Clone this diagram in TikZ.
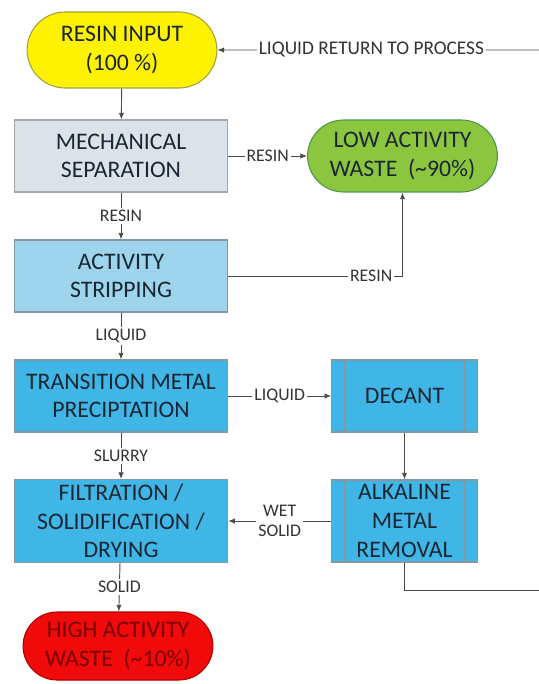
\documentclass[tikz,border=0pt]{standalone}
\usepackage{fontspec}
\setmainfont{Carlito}
\usetikzlibrary{shapes.misc,arrows.meta,positioning}
\definecolor{edgegray}{HTML}{4A4A4A}
\definecolor{labeltext}{HTML}{333333}
\definecolor{boxtext}{HTML}{1A2633}
\tikzset{box node/.style={rectangle, draw=#1, line width=0.8pt,
    minimum width=160pt, minimum height=54pt, align=center,
    font=\fontsize{17.8}{21.5}\selectfont, text=boxtext}}
\tikzset{end node/.style={rounded rectangle, draw=#1, line width=0.8pt,
    minimum width=149pt, minimum height=54pt, align=center,
    font=\fontsize{17.8}{21.5}\selectfont}}
\tikzset{flow edge/.style={draw=edgegray, line width=0.7pt, -{Latex[length=5pt,width=4pt]}}}
\tikzset{plain edge/.style={draw=edgegray, line width=0.7pt}}
\tikzset{flow label/.style={fill=white, inner sep=1.5pt, align=center,
    font=\fontsize{13.3}{15.5}\selectfont, text=labeltext}}

\begin{document}
\begin{tikzpicture}
      [x=0.75pt, y=-0.75pt]
      \useasboundingbox (0,0) rectangle (538,684);

      \node [end node=yellow!60!black, fill=yellow, minimum height=57pt, text=boxtext]
                                              (resin)  at (122, 50) {RESIN INPUT\\(100 \%)};
      \node [box node=gray!70, fill={rgb,255:red,220;green,227;blue,232}]
                                              (mech)   at (121,156) {MECHANICAL\\SEPARATION};
      \node [end node=green!40!black!70, fill={rgb,255:red,140;green,198;blue,63}, text=boxtext]
                                              (law)    at (402.5,156) {LOW ACTIVITY\\WASTE \ (\textasciitilde90\%)};
      \node [box node=cyan!30!black!60, fill={rgb,255:red,158;green,212;blue,236}]
                                              (strip)  at (121,276) {ACTIVITY\\STRIPPING};
      \node [box node=cyan!30!black!60, fill={rgb,255:red,64;green,182;blue,230}]
                                              (tmp)    at (121,396) {TRANSITION METAL\\PRECIPTATION};
      \node [box node=cyan!30!black!60, fill={rgb,255:red,64;green,182;blue,230}, minimum width=109pt]
                                              (decant) at (404.5,396) {DECANT};
      \node [box node=cyan!30!black!60, fill={rgb,255:red,64;green,182;blue,230}, minimum height=61.5pt]
                                              (filt)   at (121,521) {FILTRATION /\\SOLIDIFICATION /\\DRYING};
      \node [box node=cyan!30!black!60, fill={rgb,255:red,64;green,182;blue,230}, minimum width=109pt, minimum height=61.5pt]
                                              (alk)    at (404.5,521) {ALKALINE\\METAL\\REMOVAL};
      \node [end node=red!70!black, fill={rgb,255:red,240;green,10;blue,10}, minimum height=51pt,
             text={rgb,255:red,120;green,0;blue,0}]
                                              (haw)    at (118,646) {HIGH ACTIVITY\\WASTE \ (\textasciitilde10\%)};

      % predefined process bars
      \draw [draw=cyan!30!black!60, line width=0.6pt] ([xshift=10pt]decant.north west) -- ([xshift=10pt]decant.south west);
      \draw [draw=cyan!30!black!60, line width=0.6pt] ([xshift=-10pt]decant.north east) -- ([xshift=-10pt]decant.south east);
      \draw [draw=cyan!30!black!60, line width=0.6pt] ([xshift=10pt]alk.north west) -- ([xshift=10pt]alk.south west);
      \draw [draw=cyan!30!black!60, line width=0.6pt] ([xshift=-10pt]alk.north east) -- ([xshift=-10pt]alk.south east);

      \coordinate (retlow)  at (545,590);
      \coordinate (rethigh) at (545, 50);

      \draw [flow edge]  (resin)  to (mech);
      \draw [flow edge]  (mech)   to node [flow label] {RESIN} (law);
      \draw [flow edge]  (mech)   to node [flow label] {RESIN} (strip);
      \draw [flow edge]  (strip)  -| node [flow label, pos=0.41] {RESIN} (law);
      \draw [flow edge]  (strip)  to node [flow label] {LIQUID} (tmp);
      \draw [flow edge]  (tmp)    to node [flow label] {LIQUID} (decant);
      \draw [flow edge]  (tmp)    to node [flow label] {SLURRY} (filt);
      \draw [flow edge]  (decant) to (alk);
      \draw [flow edge]  (alk)    to node [flow label] {WET\\SOLID} (filt);
      \draw [flow edge]  (filt)   to node [flow label] {SOLID} (haw);
      \draw [plain edge] (alk.south) |- (retlow) -- (rethigh);
      \draw [flow edge]  (rethigh) to node [flow label, pos=0.53, font=\fontsize{14.5}{16}\selectfont] {LIQUID RETURN TO PROCESS} (resin);
    \end{tikzpicture}
\end{document}
